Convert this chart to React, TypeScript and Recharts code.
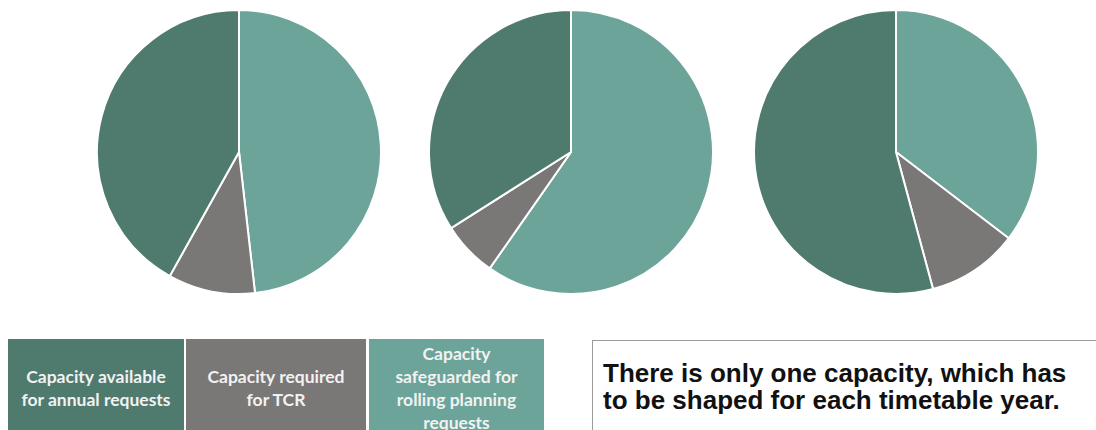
import React from "react"
import { PieChart, Pie, Cell } from "recharts"

// slice order: clockwise from 12 o'clock
const segmentNames = [
    "Capacity safeguarded for rolling planning requests",
    "Capacity required for TCR",
    "Capacity available for annual requests",
]
const yearAValues = [48.2, 9.9, 41.9]
const yearBValues = [59.7, 6.3, 34.0]
const yearCValues = [35.4, 10.4, 54.2]
const sliceColors = ["#6CA49A", "#7A7777", "#4F7A6E"]

// legend boxes, left to right
const legendLines = [
    ["Capacity available", "for annual requests"],
    ["Capacity required", "for TCR"],
    ["Capacity", "safeguarded for", "rolling planning", "requests"],
]
const legendColors = ["#4F7A6E", "#7A7777", "#6CA49A"]
const noteLines = [
    "There is only one capacity, which has",
    "to be shaped for each timetable year.",
]

const toRows = (values: number[]) => values.map((v, i) => ({ name: segmentNames[i], value: v }))

const pies = [
    { key: "a", data: toRows(yearAValues), cx: 239 },
    { key: "b", data: toRows(yearBValues), cx: 571 },
    { key: "c", data: toRows(yearCValues), cx: 896 },
]

const legendBoxes = [
    { left: 8, width: 176 },
    { left: 186, width: 180 },
    { left: 369, width: 175 },
]

export default function App() {
    return (
        <div style={{ position: "absolute", left: 0, top: 0, width: 1096, height: 430, overflow: "hidden", background: "#fff" }}>
            <PieChart width={1096} height={320} margin={{ top: 0, right: 0, bottom: 0, left: 0 }}>
                {pies.map((p) => (
                    <Pie
                        key={p.key}
                        data={p.data}
                        dataKey="value"
                        nameKey="name"
                        cx={p.cx}
                        cy={152}
                        outerRadius={142}
                        startAngle={90}
                        endAngle={-270}
                        stroke="#ffffff"
                        strokeWidth={2}
                        isAnimationActive={false}
                    >
                        {p.data.map((d, i) => (
                            <Cell key={d.name} fill={sliceColors[i]} />
                        ))}
                    </Pie>
                ))}
            </PieChart>

            {legendLines.map((lines, i) => (
                <div
                    key={i}
                    style={{
                        position: "absolute",
                        left: legendBoxes[i].left,
                        width: legendBoxes[i].width,
                        top: 339,
                        height: 97,
                        background: legendColors[i],
                        color: "#f2f2f2",
                        fontFamily: "Lato, 'Open Sans', sans-serif",
                        fontWeight: 700,
                        fontSize: 17.5,
                        lineHeight: "23px",
                        display: "flex",
                        flexDirection: "column",
                        justifyContent: "center",
                        alignItems: "center",
                        textAlign: "center",
                        whiteSpace: "nowrap",
                    }}
                >
                    {lines.map((l) => (
                        <div key={l}>{l}</div>
                    ))}
                </div>
            ))}

            <div
                style={{
                    position: "absolute",
                    left: 592,
                    top: 340,
                    width: 540,
                    height: 110,
                    border: "1.5px solid #9c9c9c",
                    boxSizing: "border-box",
                    padding: "19px 0 0 10px",
                    fontFamily: "'Liberation Sans', Arial, sans-serif",
                    fontWeight: 700,
                    fontSize: 26,
                    lineHeight: "27px",
                    color: "#111",
                    whiteSpace: "nowrap",
                }}
            >
                {noteLines.map((l) => (
                    <div key={l}>{l}</div>
                ))}
            </div>
        </div>
    )
}
